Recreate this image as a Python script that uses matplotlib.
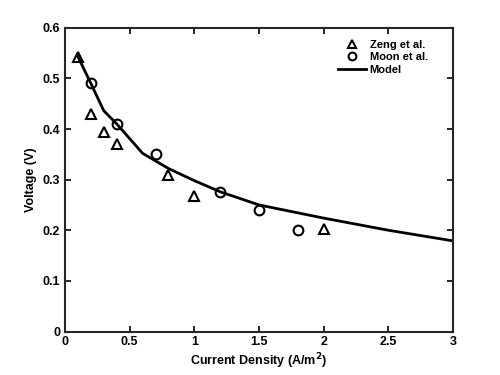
import matplotlib
matplotlib.use("Agg")
import matplotlib.pyplot as plt

# Datos experimentales
zeng_x = [0.1, 0.2, 0.3, 0.4, 0.8, 1.0, 2.0]
zeng_y = [0.543, 0.43, 0.395, 0.37, 0.31, 0.267, 0.202]

moon_x = [0.2, 0.4, 0.7, 1.2, 1.5, 1.8]
moon_y = [0.49, 0.41, 0.35, 0.275, 0.24, 0.20]

# Curva del modelo
model_x = [0.1, 0.2, 0.3, 0.4, 0.6, 0.8, 1.0, 1.2, 1.5, 2.0, 2.5, 3.0]
model_y = [0.543, 0.49, 0.436, 0.41, 0.352, 0.322, 0.298, 0.276, 0.25, 0.224, 0.2, 0.179]

plt.rcParams["font.family"] = ["Liberation Sans", "DejaVu Sans"]
plt.rcParams["font.weight"] = "bold"

fig = plt.figure(figsize=(5, 3.75), dpi=100)
ax = fig.add_axes([0.13, 0.116, 0.776, 0.81])

ax.plot(zeng_x, zeng_y, linestyle="none", marker="^", markersize=7,
        markerfacecolor="none", markeredgecolor="black", markeredgewidth=1.5,
        label="Zeng et al.")
ax.plot(moon_x, moon_y, linestyle="none", marker="o", markersize=7,
        markerfacecolor="none", markeredgecolor="black", markeredgewidth=1.5,
        label="Moon et al.")
ax.plot(model_x, model_y, color="black", linewidth=2, label="Model")

ax.set_xlim(0, 3)
ax.set_ylim(0, 0.6)
ax.set_xticks([0, 0.5, 1, 1.5, 2, 2.5, 3])
ax.set_xticklabels(["0", "0.5", "1", "1.5", "2", "2.5", "3"])
ax.set_yticks([0, 0.1, 0.2, 0.3, 0.4, 0.5, 0.6])
ax.set_yticklabels(["0", "0.1", "0.2", "0.3", "0.4", "0.5", "0.6"])
ax.tick_params(direction="in", top=True, right=True, labelsize=9, length=4, width=1.2)
for s in ax.spines.values():
    s.set_linewidth(1.5)
    s.set_color("#262626")

ax.set_xlabel("Current Density (A/m$^\\mathbf{2}$)", fontsize=9, fontweight="bold", labelpad=2)
ax.set_ylabel("Voltage (V)", fontsize=9, fontweight="bold", labelpad=4)

leg = ax.legend(loc="upper right", frameon=False, fontsize=8, handlelength=2.5,
                borderaxespad=0.3, labelspacing=0.2, handletextpad=0.3,
                markerscale=0.8, bbox_to_anchor=(0.955, 0.985))

plt.savefig("out.png", dpi=100)
plt.close()
